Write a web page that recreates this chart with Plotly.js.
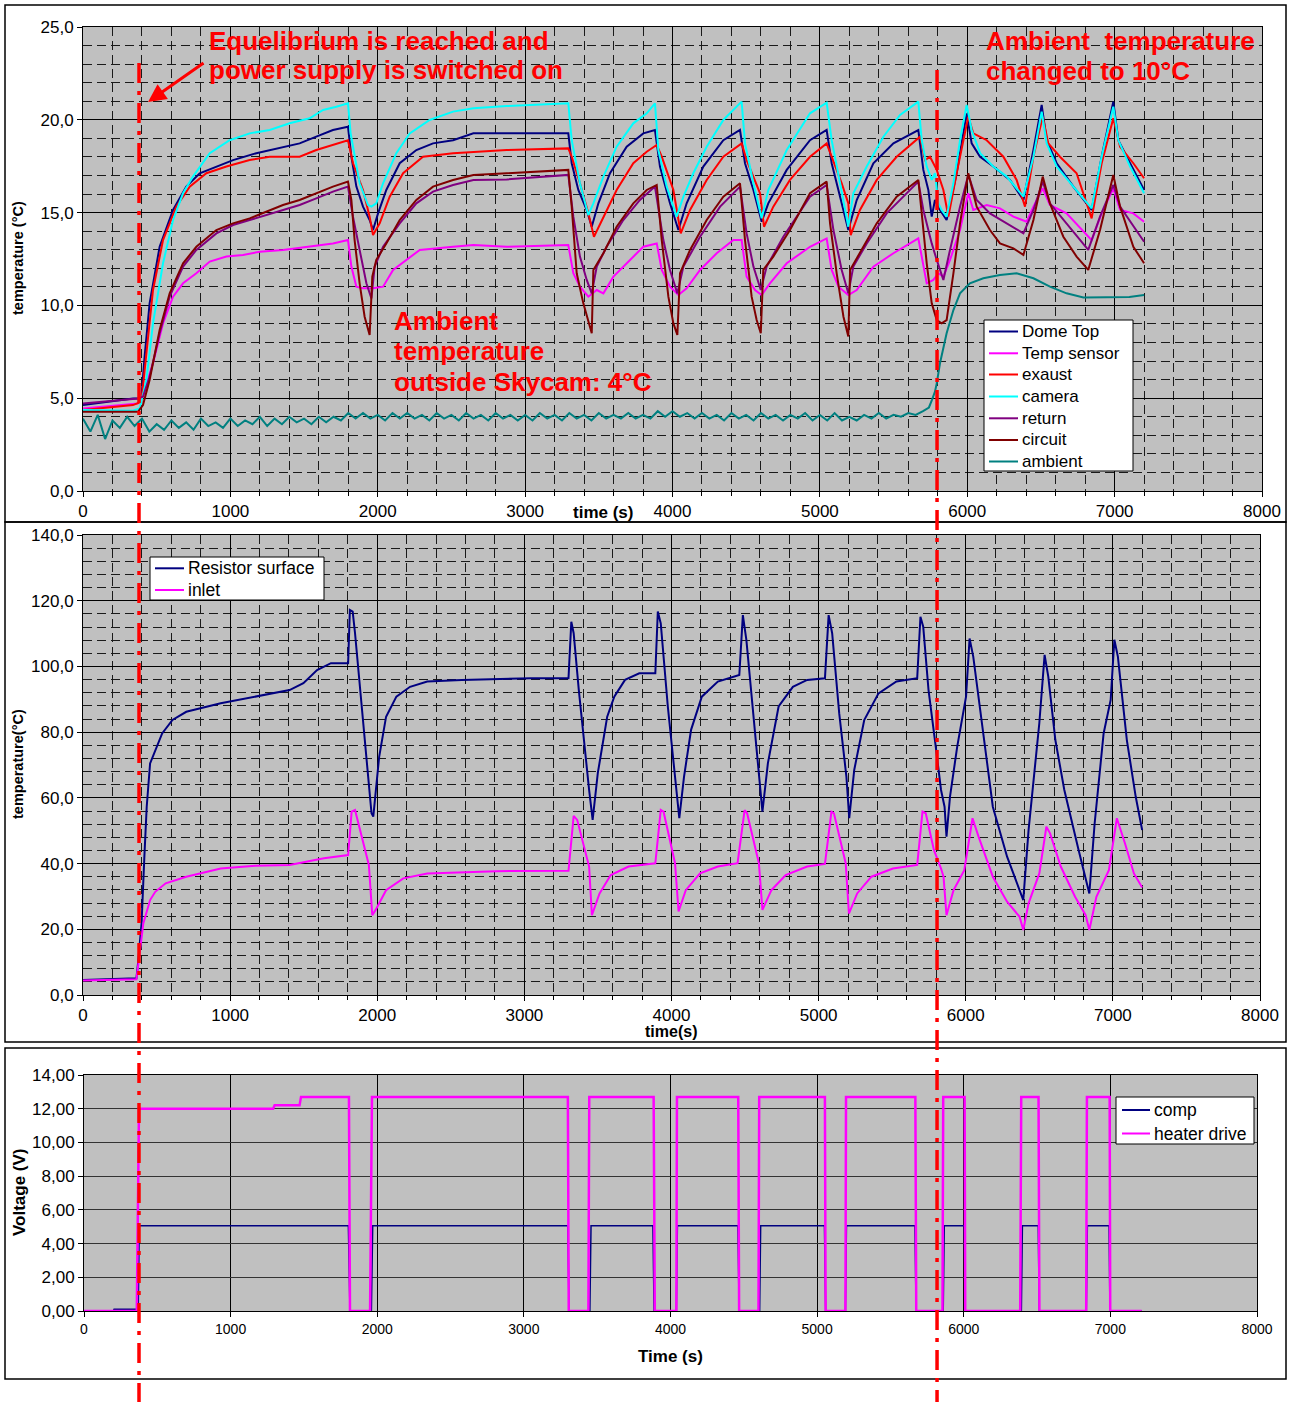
<!DOCTYPE html>
<html>
<head>
<meta charset="utf-8">
<script src="https://cdn.plot.ly/plotly-3.0.1.min.js"></script>
<style>html,body{margin:0;padding:0;background:#fff;}#chart{width:1289px;height:1402px;}</style>
</head>
<body>
<div id="chart"></div>
<script>
// ---------- DATA (time in s, value) ----------
const domeTop = [[0,4.63],[339,4.99],[396,4.99],[418,7.24],[452,10.11],[520,13.16],[611,15.14],[701,16.4],[792,17.12],[905,17.48],[1018,17.83],[1176,18.2],[1357,18.55],[1470,18.73],[1583,19.09],[1696,19.45],[1798,19.63],[1821,18.01],[1855,16.4],[1900,15.32],[1945,14.6],[1968,14.06],[2002,14.96],[2058,16.22],[2149,17.66],[2262,18.37],[2375,18.73],[2511,18.9],[2649,19.27],[2875,19.27],[3293,19.27],[3316,17.66],[3361,16.22],[3418,15.14],[3452,14.24],[3497,15.5],[3576,17.12],[3689,18.55],[3802,19.27],[3881,19.45],[3915,17.48],[3983,15.5],[4040,14.06],[4096,15.5],[4209,17.48],[4345,18.9],[4458,19.45],[4492,17.66],[4549,16.22],[4605,14.51],[4650,15.5],[4775,17.3],[4933,18.9],[5046,19.45],[5080,17.66],[5137,15.86],[5193,14.06],[5250,15.68],[5363,17.66],[5499,18.73],[5668,19.45],[5702,17.3],[5736,16.22],[5759,14.78],[5781,15.68],[5815,15.14],[5860,14.6],[5928,17.12],[5996,20.35],[6030,18.73],[6087,18.01],[6177,17.48],[6290,16.76],[6381,15.68],[6449,18.37],[6505,20.8],[6539,18.9],[6607,17.66],[6720,16.4],[6844,15.14],[6912,18.01],[6991,20.98],[7025,18.9],[7105,17.66],[7200,16.22]];
const tempSensor = [[0,4.45],[373,4.72],[418,5.44],[475,6.88],[543,9.03],[611,10.47],[679,11.19],[769,11.73],[860,12.36],[973,12.63],[1086,12.72],[1199,12.89],[1357,12.99],[1538,13.16],[1696,13.34],[1798,13.52],[1821,12.09],[1855,11.01],[1900,10.92],[1968,10.92],[2036,11.01],[2104,11.91],[2194,12.45],[2285,12.99],[2511,13.16],[2649,13.25],[2875,13.16],[3293,13.25],[3327,11.73],[3372,11.01],[3429,10.47],[3486,10.83],[3531,10.65],[3599,11.55],[3712,12.45],[3802,13.16],[3893,13.34],[3927,11.91],[3983,11.01],[4040,10.56],[4096,10.92],[4187,11.91],[4300,12.81],[4413,13.52],[4469,13.52],[4503,11.55],[4560,10.83],[4605,10.56],[4661,11.19],[4775,12.27],[4933,13.16],[5046,13.61],[5080,11.91],[5126,11.01],[5193,10.56],[5250,10.83],[5363,12.09],[5499,12.81],[5668,13.61],[5702,12.09],[5725,11.19],[5770,11.37],[5804,11.73],[5838,11.55],[5883,12.45],[5951,14.06],[6007,16.04],[6041,15.14],[6132,15.41],[6222,15.23],[6313,14.78],[6403,14.51],[6449,15.32],[6512,16.31],[6561,15.41],[6674,14.96],[6844,13.52],[6912,14.96],[6991,16.31],[7037,15.14],[7127,14.96],[7200,14.51]];
const exaust = [[0,4.36],[339,4.63],[396,4.81],[430,7.42],[475,10.83],[543,13.52],[633,15.32],[724,16.4],[837,17.12],[973,17.48],[1131,17.83],[1267,18.01],[1470,18.01],[1583,18.37],[1696,18.64],[1798,18.9],[1832,17.66],[1900,16.22],[1945,14.78],[1968,13.79],[2013,14.42],[2081,15.86],[2172,17.12],[2307,18.01],[2511,18.2],[2875,18.37],[3293,18.46],[3316,18.01],[3372,16.58],[3429,14.96],[3467,13.7],[3531,14.78],[3621,16.22],[3734,17.66],[3825,18.28],[3893,18.64],[3927,18.01],[4006,16.22],[4056,13.88],[4119,15.14],[4232,16.76],[4345,18.01],[4469,18.73],[4503,17.83],[4560,16.76],[4594,16.04],[4621,14.24],[4684,15.32],[4797,16.76],[4933,18.01],[5046,18.73],[5080,18.01],[5148,16.58],[5193,15.5],[5209,13.79],[5272,15.14],[5386,16.76],[5521,18.01],[5680,19.09],[5714,17.83],[5747,18.01],[5793,17.3],[5838,16.22],[5872,14.78],[5928,17.12],[6007,20.17],[6041,19.27],[6132,18.9],[6245,18.01],[6335,16.76],[6392,15.32],[6449,18.01],[6512,20.17],[6550,18.73],[6629,18.01],[6742,17.12],[6844,14.69],[6912,17.66],[6991,20.08],[7037,18.55],[7127,17.66],[7200,16.85]];
const camera = [[0,4.36],[339,4.33],[385,4.45],[430,5.98],[475,9.03],[543,12.27],[611,14.6],[679,16.04],[746,16.94],[860,18.2],[995,18.9],[1131,19.27],[1267,19.45],[1402,19.81],[1538,20.08],[1629,20.53],[1719,20.7],[1798,20.89],[1816,19.27],[1877,16.58],[1934,15.41],[1957,15.32],[1990,15.5],[2036,16.58],[2126,18.2],[2217,19.27],[2352,19.99],[2511,20.44],[2649,20.62],[2875,20.74],[3293,20.89],[3316,18.9],[3372,16.58],[3429,14.87],[3463,15.5],[3531,16.94],[3621,18.55],[3734,19.81],[3825,20.35],[3881,20.89],[3904,18.37],[3961,16.4],[4028,14.78],[4074,15.86],[4141,17.12],[4232,18.55],[4345,19.99],[4413,20.53],[4469,20.98],[4492,18.73],[4549,16.58],[4605,14.69],[4650,16.22],[4775,18.37],[4933,20.35],[5046,20.92],[5080,18.9],[5137,16.58],[5193,14.24],[5227,16.04],[5318,17.48],[5431,19.09],[5544,20.26],[5668,20.98],[5691,18.9],[5725,17.48],[5759,16.76],[5781,17.12],[5804,15.5],[5826,15.14],[5860,14.78],[5906,16.58],[5951,18.9],[5996,20.8],[6030,19.45],[6087,18.2],[6177,17.48],[6268,16.94],[6381,15.86],[6449,18.01],[6505,20.44],[6539,18.73],[6607,17.48],[6720,16.4],[6844,15.23],[6912,18.01],[6991,20.71],[7025,18.9],[7105,17.48],[7200,16.04]];
const returnT = [[0,4.72],[226,4.9],[373,4.99],[407,5.08],[452,6.16],[520,8.49],[588,10.47],[679,12.09],[769,12.99],[905,13.88],[1018,14.33],[1131,14.6],[1244,14.87],[1357,15.14],[1470,15.41],[1583,15.77],[1696,16.13],[1798,16.4],[1832,14.78],[1877,12.99],[1923,11.19],[1957,10.38],[1979,12.09],[2036,13.16],[2149,14.42],[2262,15.5],[2375,16.13],[2511,16.49],[2649,16.76],[2875,16.79],[3293,17.03],[3327,14.78],[3372,12.63],[3418,11.37],[3452,10.65],[3486,12.09],[3553,13.16],[3666,14.6],[3779,15.68],[3881,16.4],[3938,13.52],[3983,11.91],[4033,10.65],[4074,12.09],[4187,13.7],[4323,15.32],[4458,16.4],[4503,13.88],[4549,12.09],[4599,10.83],[4639,12.09],[4752,13.7],[4933,15.86],[5046,16.49],[5092,14.06],[5148,11.91],[5193,10.65],[5227,12.09],[5318,13.34],[5453,14.96],[5668,16.67],[5702,15.14],[5736,14.06],[5759,13.34],[5793,12.45],[5838,11.37],[5883,12.99],[5951,15.32],[6007,17.03],[6064,15.68],[6154,14.96],[6268,14.42],[6381,13.88],[6449,15.14],[6512,16.67],[6561,15.5],[6674,14.42],[6821,12.99],[6901,14.78],[6991,16.49],[7037,15.32],[7127,14.24],[7200,13.43]];
const circuit = [[0,4.27],[373,4.27],[407,4.63],[452,5.98],[520,8.67],[588,10.65],[679,12.27],[769,13.16],[905,14.06],[1018,14.42],[1131,14.69],[1244,15.05],[1357,15.41],[1470,15.68],[1583,16.04],[1696,16.4],[1798,16.67],[1821,15.68],[1843,13.52],[1877,11.19],[1911,9.39],[1945,8.41],[1963,11.55],[1990,12.45],[2058,13.34],[2149,14.6],[2262,15.68],[2375,16.4],[2511,16.76],[2649,17.03],[2875,17.12],[3293,17.3],[3316,15.32],[3350,11.73],[3395,10.11],[3440,8.85],[3452,8.5],[3463,11.91],[3531,12.81],[3621,14.24],[3734,15.5],[3825,16.22],[3893,16.49],[3927,13.52],[3972,10.47],[4006,9.03],[4033,8.41],[4051,11.73],[4119,12.99],[4232,14.6],[4345,15.86],[4458,16.58],[4492,13.52],[4537,10.47],[4571,9.21],[4599,8.5],[4616,11.91],[4684,12.63],[4797,14.06],[4933,16.04],[5046,16.67],[5069,14.42],[5114,11.73],[5160,9.39],[5193,8.32],[5205,11.91],[5272,12.81],[5386,14.42],[5521,15.86],[5668,16.76],[5691,14.96],[5725,12.27],[5759,10.11],[5793,9.21],[5826,9.03],[5860,9.21],[5906,11.73],[5951,14.42],[6007,17.12],[6064,15.32],[6154,14.06],[6222,13.34],[6313,13.07],[6381,12.72],[6449,14.6],[6512,16.94],[6561,15.5],[6652,13.7],[6742,12.63],[6821,11.91],[6901,14.06],[6991,17.03],[7037,15.32],[7127,13.16],[7200,12.27]];
const ambient = [[0,3.9],[50,3.2],[100,4.1],[150,2.8],[200,3.8],[250,3.4],[300,4.0],[350,3.5],[400,3.9],[450,3.2],[500,3.6],[550,3.3],[600,3.8],[650,3.4],[700,3.7],[750,3.3],[800,3.9],[850,3.5],[900,3.7],[950,3.4],[1000,3.9],[1050,3.5],[1100,3.8],[1150,3.6],[1200,4.0],[1250,3.5],[1300,3.9],[1350,3.6],[1400,4.0],[1450,3.7],[1500,3.9],[1550,3.6],[1600,4.0],[1650,3.7],[1700,4.0],[1750,3.8],[1800,4.2],[1850,3.9],[1900,4.2],[1950,3.9],[2000,4.1],[2050,3.8],[2100,4.2],[2150,3.9],[2200,4.2],[2250,3.9],[2300,4.1],[2350,3.8],[2400,4.2],[2450,3.9],[2500,4.1],[2550,3.8],[2600,4.2],[2650,3.9],[2700,4.1],[2750,3.8],[2800,4.2],[2850,3.9],[2900,4.1],[2950,3.8],[3000,4.1],[3050,3.8],[3100,4.2],[3150,3.9],[3200,4.1],[3250,3.8],[3300,4.2],[3350,3.9],[3400,4.1],[3450,3.8],[3500,4.2],[3550,3.9],[3600,4.1],[3650,3.9],[3700,4.2],[3750,3.9],[3800,4.1],[3850,3.9],[3900,4.3],[3950,4.0],[4000,4.3],[4050,4.0],[4100,4.2],[4150,3.9],[4200,4.2],[4250,3.9],[4300,4.1],[4350,3.8],[4400,4.2],[4450,3.9],[4500,4.1],[4550,3.8],[4600,4.2],[4650,3.9],[4700,4.1],[4750,3.8],[4800,4.1],[4850,3.9],[4900,4.2],[4950,3.8],[5000,4.1],[5050,3.8],[5100,4.2],[5150,3.8],[5200,4.0],[5250,3.8],[5300,4.1],[5350,3.9],[5400,4.2],[5450,3.9],[5500,4.1],[5550,4.0],[5600,4.2],[5650,4.1],[5700,4.3],[5740,4.5],[5760,4.9],[5781,5.35],[5793,5.8],[5815,6.88],[5860,8.5],[5906,9.75],[5951,10.65],[6018,11.19],[6109,11.46],[6222,11.64],[6335,11.73],[6449,11.46],[6561,11.01],[6674,10.65],[6788,10.43],[6901,10.43],[7014,10.43],[7100,10.45],[7200,10.56]];

const resistorSurface = [[0,4.6],[363,5.1],[374,9.6],[398,21.8],[417,42],[433,57.3],[456,70.5],[491,74.6],[538,79.6],[608,83.7],[702,86.2],[936,88.8],[1170,90.8],[1404,92.8],[1498,94.9],[1591,98.9],[1685,101],[1802,101],[1814,117.2],[1833,116.7],[1849,110.1],[1961,55.3],[1973,54.3],[1989,62.4],[2013,72.5],[2060,84.7],[2130,90.8],[2223,93.8],[2340,95.4],[2574,95.9],[2808,96.2],[3043,96.4],[3300,96.4],[3319,113.6],[3335,110.1],[3370,92.8],[3440,62.4],[3464,53.3],[3499,67.5],[3563,84.7],[3611,90.8],[3684,95.9],[3781,97.9],[3890,97.9],[3907,116.7],[3927,113.1],[3975,87.8],[4024,67.5],[4053,53.8],[4085,66.4],[4133,80.7],[4206,90.8],[4315,95.4],[4461,97.4],[4485,115.6],[4509,108],[4558,84.7],[4594,66.4],[4618,55.8],[4655,70.5],[4728,87.8],[4825,93.8],[4922,95.9],[5043,96.4],[5068,115.6],[5092,110.1],[5140,85.7],[5189,66.4],[5208,53.8],[5242,68.5],[5310,83.7],[5407,91.8],[5529,95.4],[5670,96.4],[5692,115.1],[5711,112.1],[5747,92.8],[5796,75.6],[5832,62.4],[5856,57.3],[5869,48.2],[5893,60.4],[5942,75.6],[6002,90.8],[6026,108.5],[6051,103],[6111,82.7],[6184,57.3],[6281,42.1],[6391,28.9],[6427,50.2],[6500,82.7],[6536,103.5],[6561,96.9],[6609,77.6],[6670,62.4],[6767,44.1],[6840,30.9],[6876,52.2],[6937,79.6],[6985,89.8],[7010,108.1],[7034,103],[7095,77.6],[7155,60.4],[7199,50.2]];
const inlet = [[0,4.4],[363,4.8],[374,8.6],[410,21.8],[456,28.9],[491,31.4],[562,34],[702,36],[936,38.5],[1170,39.3],[1404,39.6],[1638,41.6],[1802,42.6],[1826,55.8],[1849,56.3],[1943,39.6],[1966,24.3],[1989,25.9],[2060,31.9],[2177,35.5],[2340,37],[2574,37.3],[2808,37.7],[3300,37.8],[3335,54.5],[3359,53.3],[3440,39.1],[3459,24.3],[3511,30.9],[3587,36.5],[3708,39.1],[3890,40.1],[3927,56.3],[3946,55.8],[4024,40.1],[4048,25.4],[4097,31.9],[4194,37],[4315,39.1],[4449,40.1],[4497,56.3],[4514,55.3],[4594,40.1],[4618,25.9],[4679,31.9],[4776,36.5],[4922,39.1],[5043,39.9],[5087,55.8],[5104,55.3],[5184,40.1],[5206,24.8],[5262,30.9],[5359,36],[5505,38.5],[5670,39.6],[5706,55.8],[5728,55.3],[5784,44.1],[5832,38.5],[5849,36],[5869,24.3],[5917,31.9],[5990,38],[6046,53.8],[6087,48.2],[6184,36],[6281,28.4],[6366,23.8],[6391,19.8],[6427,27.9],[6500,37],[6548,51.2],[6573,49.2],[6646,39.1],[6743,29.9],[6815,24.3],[6840,19.8],[6888,29.9],[6973,38],[7027,53.8],[7082,46.2],[7143,37],[7199,32.7]];

const comp = [[0,0],[200,0],[205,0.1],[370,0.1],[377,5.05],[1803,5.05],[1814,0],[1960,0],[1969,5.05],[3300,5.05],[3308,0],[3450,0],[3458,5.05],[3880,5.05],[3888,0],[4040,0],[4047,5.05],[4460,5.05],[4468,0],[4608,0],[4615,5.05],[5050,5.05],[5058,0],[5193,0],[5200,5.05],[5667,5.05],[5675,0],[5860,0],[5867,5.05],[6004,5.05],[6010,0],[6393,0],[6400,5.05],[6508,5.05],[6515,0],[6836,0],[6843,5.05],[6991,5.05],[6997,0],[7213,0]];
const heaterDrive = [[0,0],[360,0],[375,12.0],[1290,12.0],[1300,12.2],[1470,12.2],[1480,12.7],[1807,12.7],[1814,0],[1951,0],[1964,12.7],[3300,12.7],[3306,0],[3440,0],[3446,12.7],[3885,12.7],[3893,0],[4040,0],[4044,12.7],[4462,12.7],[4468,0],[4600,0],[4605,12.7],[5053,12.7],[5058,0],[5193,0],[5197,12.7],[5670,12.7],[5676,0],[5855,0],[5860,12.7],[6006,12.7],[6010,0],[6385,0],[6392,12.7],[6510,12.7],[6516,0],[6835,0],[6840,12.7],[6995,12.7],[6999,0],[7213,0]];

const xTicks = [0,1000,2000,3000,4000,5000,6000,7000,8000];
const eventTimes = [380, 5795]; // power on, ambient change

// ---------- LAYOUT HELPERS ----------
const W = 1289, H = 1402;
const px = v => v / W;
const py = v => 1 - v / H;
const FONT = 'Liberation Sans, Arial, sans-serif';

function tr(arr, name, color, xa, ya, width) {
  return {
    x: arr.map(p => p[0]), y: arr.map(p => p[1]), name: name,
    type: 'scatter', mode: 'lines', xaxis: xa, yaxis: ya, showlegend: false,
    line: {color: color, width: width || 2}
  };
}

const panel1 = [
  tr(domeTop, 'Dome Top', '#000080', 'x', 'y'),
  tr(tempSensor, 'Temp sensor', '#FF00FF', 'x', 'y'),
  tr(exaust, 'exaust', '#FF0000', 'x', 'y'),
  tr(camera, 'camera', '#00FFFF', 'x', 'y'),
  tr(returnT, 'return', '#800080', 'x', 'y'),
  tr(circuit, 'circuit', '#800000', 'x', 'y'),
  tr(ambient, 'ambient', '#008080', 'x', 'y')
];
const panel2 = [
  tr(resistorSurface, 'Resistor surface', '#000080', 'x2', 'y2'),
  tr(inlet, 'inlet', '#FF00FF', 'x2', 'y2')
];
const panel3 = [
  tr(comp, 'comp', '#000080', 'x3', 'y3', 1.5),
  tr(heaterDrive, 'heater drive', '#FF00FF', 'x3', 'y3', 2.5)
];
const traces = panel1.concat(panel2, panel3);

function xAxis(d0, d1, anchor, minorOn, fsize) {
  const a = {
    domain: [px(d0), px(d1)], anchor: anchor, range: [0, 8000],
    tickvals: xTicks, ticks: 'outside', ticklen: 5, tickcolor: '#000',
    showgrid: true, gridcolor: '#000', gridwidth: 1,
    showline: true, linecolor: '#000', linewidth: 1, mirror: true,
    zeroline: false, tickfont: {family: FONT, size: fsize, color: '#000'},
    fixedrange: true
  };
  if (minorOn) a.minor = {dtick: 200, tick0: 0, showgrid: true, griddash: '9px,5px', gridcolor: '#1a1a1a', gridwidth: 1, ticks: 'outside', ticklen: 4, tickcolor: '#000'};
  return a;
}
function yAxis(top, bottom, anchor, max, dtick, minorD, fmt, fsize, gridcol) {
  const a = {
    domain: [py(bottom), py(top)], anchor: anchor, range: [0, max],
    dtick: dtick, tick0: 0, tickformat: fmt, ticks: 'outside', ticklen: 5, tickcolor: '#000',
    showgrid: true, gridcolor: gridcol || '#000', gridwidth: 1,
    showline: true, linecolor: '#000', linewidth: 1, mirror: true,
    zeroline: false, tickfont: {family: FONT, size: fsize, color: '#000'},
    fixedrange: true
  };
  if (minorD) a.minor = {dtick: minorD, tick0: 0, showgrid: true, griddash: '9px,5px', gridcolor: '#1a1a1a', gridwidth: 1};
  return a;
}

function redText(t, x, y, size) {
  return {text: t, x: px(x), y: py(y), xref: 'paper', yref: 'paper', xanchor: 'left', yanchor: 'middle',
    showarrow: false, font: {family: FONT, size: size || 26, color: '#FF0000', weight: 'bold'}};
}
function boldLabel(t, x, y, size, angle) {
  return {text: '<b>' + t + '</b>', x: px(x), y: py(y), xref: 'paper', yref: 'paper', xanchor: 'center', yanchor: 'middle',
    showarrow: false, textangle: angle || 0, font: {family: FONT, size: size, color: '#000'}};
}

// custom legend boxes (legend text drawn from the trace names/colours)
const shapes = [];
const annotations = [];
function legendBox(list, box, rowYs, lx0, lx1, tx, fsize) {
  shapes.push({type: 'rect', xref: 'paper', yref: 'paper', x0: px(box[0]), x1: px(box[2]), y0: py(box[3]), y1: py(box[1]),
    line: {color: '#000', width: 1}, fillcolor: '#FFFFFF', layer: 'above'});
  list.forEach((t, i) => {
    shapes.push({type: 'line', xref: 'paper', yref: 'paper', x0: px(lx0), x1: px(lx1), y0: py(rowYs[i]), y1: py(rowYs[i]),
      line: {color: t.line.color, width: 2}, layer: 'above'});
    annotations.push({text: t.name, x: px(tx), y: py(rowYs[i]), xref: 'paper', yref: 'paper', xanchor: 'left', yanchor: 'middle',
      showarrow: false, font: {family: FONT, size: fsize, color: '#000'}});
  });
}

const red = {color: '#FF0000', width: 3.5, dash: '20px,8px,4px,8px'};

shapes.push(
  {type: 'rect', xref: 'paper', yref: 'paper', x0: px(5), x1: px(1286), y0: py(522), y1: py(5), line: {color: '#000', width: 1.5}, layer: 'below'},
  {type: 'rect', xref: 'paper', yref: 'paper', x0: px(5), x1: px(1286), y0: py(1042), y1: py(522), line: {color: '#000', width: 1.5}, layer: 'below'},
  {type: 'rect', xref: 'paper', yref: 'paper', x0: px(5), x1: px(1286), y0: py(1379), y1: py(1048), line: {color: '#000', width: 1.5}, layer: 'below'}
);

legendBox(panel1, [984, 320, 1133, 471], [331.5, 353.3, 374.5, 396.5, 418.3, 440, 461.5], 989, 1018, 1020, 17);
legendBox(panel2, [150, 557, 324, 600], [568.3, 590], 155, 184, 186, 17.5);
legendBox(panel3, [1116, 1097, 1254, 1144], [1110, 1133.5], 1122, 1150, 1152, 17.5);

shapes.push(
  {type: 'line', xref: 'x', yref: 'paper', x0: eventTimes[0], x1: eventTimes[0], y0: py(63), y1: 0, line: red, layer: 'above'},
  {type: 'line', xref: 'x', yref: 'paper', x0: eventTimes[1], x1: eventTimes[1], y0: py(70), y1: 0, line: red, layer: 'above'}
);

annotations.push(
  redText('Equelibrium is reached and', 207, 41),
  redText('power supply is switched on', 207, 70),
  redText('Ambient  temperature', 984, 41),
  redText('changed to 10°C', 984, 71),
  redText('Ambient', 392, 321),
  redText('temperature', 392, 351),
  redText('outside Skycam: 4°C', 392, 382),
  {text: '', x: px(148), y: py(102), xref: 'paper', yref: 'paper', ax: 57, ay: -40, showarrow: true,
    arrowcolor: '#FF0000', arrowwidth: 3, arrowhead: 2, arrowsize: 1.2},
  boldLabel('temperature (°C)', 18, 258, 14.5, -90),
  boldLabel('time (s)', 603, 512, 17),
  boldLabel('temperature(°C)', 18, 764, 14.5, -90),
  boldLabel('time(s)', 671, 1031, 16),
  boldLabel('Voltage (V)', 19, 1192, 17, -90),
  boldLabel('Time (s)', 670, 1356, 17)
);

const layout = {
  width: W, height: H, margin: {l: 0, r: 0, t: 0, b: 0},
  paper_bgcolor: '#FFFFFF', plot_bgcolor: '#C0C0C0',
  separators: ',.', showlegend: false, hovermode: false,
  font: {family: FONT, color: '#000'},
  xaxis: xAxis(83, 1262, 'y', true, 17),
  yaxis: yAxis(27, 491, 'x', 25, 5, 1, '.1f', 17),
  xaxis2: xAxis(83, 1260, 'y2', true, 17),
  yaxis2: yAxis(535, 995, 'x2', 140, 20, 4, '.1f', 17),
  xaxis3: xAxis(84, 1257, 'y3', false, 14),
  yaxis3: yAxis(1075, 1311, 'x3', 14, 2, null, '.2f', 17, '#333'),
  shapes: shapes,
  annotations: annotations
};

Plotly.newPlot('chart', traces, layout, {staticPlot: true, displayModeBar: false});
</script>
</body>
</html>
